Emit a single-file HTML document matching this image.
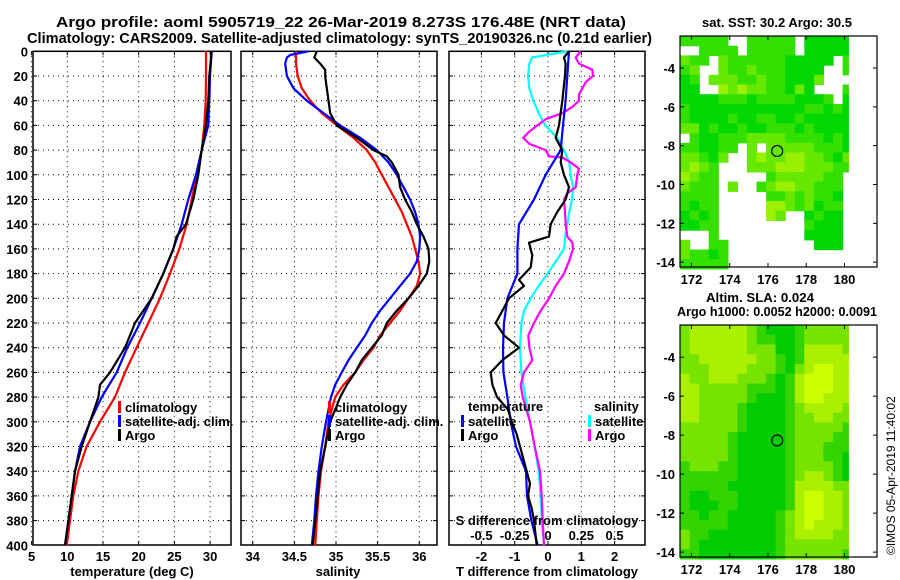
<!DOCTYPE html>
<html><head><meta charset="utf-8">
<style>
html,body{margin:0;padding:0;background:#fff;}
svg{display:block;font-family:"Liberation Sans",sans-serif;font-weight:bold;}
</style></head>
<body>
<svg id="chart" width="900" height="580" viewBox="0 0 900 580">
<text x="56" y="27" font-size="15" textLength="570" lengthAdjust="spacingAndGlyphs">Argo profile: aoml 5905719_22 26-Mar-2019 8.273S 176.48E (NRT data)</text>
<text x="27" y="43" font-size="15" textLength="625" lengthAdjust="spacingAndGlyphs">Climatology: CARS2009. Satellite-adjusted climatology: synTS_20190326.nc (0.21d earlier)</text>
<text x="702" y="27" font-size="13" textLength="150" lengthAdjust="spacingAndGlyphs">sat. SST: 30.2 Argo: 30.5</text>
<text x="706" y="302" font-size="13" textLength="108" lengthAdjust="spacingAndGlyphs">Altim. SLA: 0.024</text>
<text x="677" y="316" font-size="13" textLength="200" lengthAdjust="spacingAndGlyphs">Argo h1000: 0.0052 h2000: 0.0091</text>
<text transform="translate(895,555) rotate(-90)" font-size="12" font-weight="normal">©IMOS 05-Apr-2019 11:40:02</text>
<g id="g"></g>
</svg>
<script>
// ---- Panel 1: temperature ----
const tDepthClim = [0,20,40,60,80,100,120,140,160,180,200,220,240,260,280,300,320,340,360,380,400];
const tClim = [29.42,29.42,29.38,29.19,28.82,28.12,27.42,26.72,25.69,24.38,22.98,21.35,19.71,18.08,16.68,14.58,12.71,11.54,10.84,10.38,9.91];
const tSat = [30.22,29.99,29.89,29.75,28.82,28.03,26.95,26.02,24.85,23.45,21.82,20.18,18.41,16.92,14.82,13.18,11.78,11.08,10.61,10.15,9.68];
const tDepthArgo = [0,20,40,60,80,100,120,140,150,160,180,200,220,240,260,270,280,300,320,340,360,380,400];
const tArgo = [30.22,29.89,29.75,29.42,28.82,28.35,27.65,26.62,25.31,24.85,23.45,21.82,19.48,18.08,15.98,14.58,14.35,13.18,12.01,11.08,10.61,10.15,9.68];
// ---- Panel 2: salinity ----
const sDepth = [0,10,20,30,40,50,60,70,80,90,100,110,120,130,140,150,160,170,180,190,200,210,220,230,240,250,260,270,280,290,300,320,340,360,380,400];
const sClim = [34.52,34.52,34.54,34.59,34.69,34.83,35.01,35.21,35.37,35.47,35.55,35.63,35.71,35.79,35.85,35.91,35.95,35.99,36.01,35.97,35.87,35.77,35.65,35.53,35.45,35.33,35.23,35.09,34.99,34.95,34.91,34.87,34.82,34.79,34.77,34.75];
const sDepthSat = [0,3,5,10,20,30,40,50,60,70,80,90,100,110,120,130,140,150,160,170,180,190,200,210,220,230,240,250,260,270,280,300,320,340,360,380,400];
const sSat = [34.67,34.45,34.41,34.39,34.41,34.49,34.65,34.85,35.05,35.29,35.49,35.63,35.73,35.81,35.89,35.95,35.99,36.01,36.0,35.97,35.89,35.77,35.65,35.53,35.43,35.35,35.25,35.15,35.07,34.99,34.94,34.88,34.83,34.79,34.76,34.74,34.71];
const sDepthArgo = [0,5,10,15,20,30,40,50,60,70,80,85,90,100,110,120,130,140,150,160,170,180,190,200,210,220,230,240,250,260,270,280,290,300,320,340,360,380,400];
const sArgo = [34.77,34.74,34.81,34.87,34.87,34.89,34.91,34.93,35.01,35.25,35.45,35.61,35.67,35.75,35.77,35.83,35.91,35.97,36.05,36.11,36.12,36.09,35.99,35.87,35.73,35.61,35.55,35.43,35.31,35.23,35.13,35.05,34.99,34.93,34.87,34.81,34.78,34.75,34.72];
// ---- Panel 3: differences ----
const dDepthTSat = [0,20,40,60,80,100,120,140,160,180,200,220,240,260,280,300,320,340,360,380,400];
const dTSat = [0.63,0.58,0.53,0.45,0.38,-0.07,-0.42,-0.87,-0.92,-0.92,-1.22,-1.32,-1.35,-1.34,-1.22,-1.12,-0.96,-0.66,-0.63,-0.5,-0.31];
const dDepthTArgo = [0,5,10,20,40,60,70,80,90,100,110,120,130,140,150,155,165,175,185,190,200,210,220,230,240,250,260,270,280,290,300,310,320,340,350,360,370,380,400];
const dTArgo = [0.63,0.48,0.53,0.51,0.43,0.33,0.23,0.43,0.38,0.48,0.63,0.53,0.28,0.08,0.03,-0.57,-0.47,-0.52,-0.87,-0.72,-1.17,-1.37,-1.57,-1.32,-0.87,-1.37,-1.72,-1.67,-1.53,-1.2,-1.09,-0.94,-0.84,-0.64,-0.54,-0.6,-0.49,-0.42,-0.34];
const dDepthSSat = [0,5,10,20,30,40,50,60,70,80,90,100,110,120,130,140,150,160,170,180,190,200,210,220,240,260,280,300,320,340,360,380,400];
const dSSat = [0.145,-0.12,-0.14,-0.15,-0.14,-0.11,-0.07,-0.02,0.07,0.12,0.16,0.17,0.19,0.18,0.16,0.145,0.13,0.12,0.06,-0.004,-0.07,-0.13,-0.18,-0.2,-0.21,-0.2,-0.17,-0.135,-0.1,-0.07,-0.055,-0.047,-0.03];
const dDepthSArgo = [0,5,10,15,20,25,35,40,45,50,55,60,65,70,75,80,85,86,90,95,100,110,115,120,130,140,150,155,160,170,180,190,200,210,220,230,240,250,260,270,280,300,320,340,360,380,400];
const dSArgo = [0.245,0.208,0.233,0.333,0.338,0.283,0.233,0.233,0.183,0.108,-0.017,-0.08,-0.14,-0.186,-0.14,-0.017,0.008,0.108,0.17,0.233,0.22,0.208,0.145,0.12,0.128,0.133,0.145,0.183,0.188,0.158,0.12,0.058,0.008,-0.055,-0.105,-0.148,-0.14,-0.118,-0.18,-0.205,-0.19,-0.135,-0.1,-0.06,-0.047,-0.04,-0.03];
const depthTicks = [0,20,40,60,80,100,120,140,160,180,200,220,240,260,280,300,320,340,360,380,400];
const tTicks = [5,10,15,20,25,30];
const sTicks = [34,34.5,35,35.5,36];
const sTickLabels = ["34","34.5","35","35.5","36"];
const dTTicks = [-2,-1,0,1,2];
const dSTicks = [-0.5,-0.25,0,0.25,0.5];
const dSTickLabels = ["-0.5","-0.25","0","0.25","0.5"];
// ---- Maps ----
const lonTicks = [172,174,176,178,180];
const latTicks = [-4,-6,-8,-10,-12,-14];
const argoLon = 176.48, argoLat = -8.273;
const sstGrid = [
"ggggg..ggggg.GGGGG",
"..gggg.ggggg.GGGGG",
"lgg.lggggggGGGGG.g",
"gl..lgglgggGGGG..g",
"Gg.lllgglggGGGl...",
"GG..ylyllggGlG...g",
"GGGGgggGggggGGGg.G",
"gGGGGGGGGGGGGggGgG",
"gGGGGgGGggGGgGGGGG",
"llGgGGgGGgggGgGGGG",
".gGGgggllllggggGgG",
"ggGGgg.l.lllllgggG",
"llgGl..lyllyyllgGl",
"lylg...lllyyylllgg",
"ylgg.....glllllgg.",
"lggg.l..glyyllggg.",
"gggg.....gglglggG.",
"gGgg.....yylglGgg.",
"GgGg.....yl..GgGG.",
"GGgg.........gGGG.",
"...g.........GGGG.",
"l..gg.........GGG.",
"lggGg.............",
"ggggg............."];
const slaGrid = [
"lyyyyyylgGGGglllll","lyyyyyylggGGglllll","lyyyyyylllGGgyyyyl","llyyyyyyllgGgyyyyy",
"lllyyyylllgGlyYYyy","yllyyylllgGgyYYYyy","yylllllgggGgyYYYyy","yylllllgGGGgyYYyyy",
"yyllllgGGGGglyyyyl","yyllllgGGGGgllyyll","llllllgGGGGglllllg","lllllgGGGGGgllllgg",
"lllllgGGGGGglllggg","lllllgGGGGGglllggG","glllggGGGGGgllllgG","ggggggGGGGGglyylgG",
"gggggGGGGGGgyyyyll","gGGgggGGGGGgyYYyyl","gGGGggGGGGGgyYYyyl","ggGggGGGGGglyYYyyl",
"gggggGGGGGglyYyyyl","lggGGGGGGGglyyyyll","lgGGGGGGGGglllllll","ggGGGGGGGGgllllllg"];

const NS='http://www.w3.org/2000/svg';
const root=document.getElementById('g');
function mk(tag,attrs,parent){const e=document.createElementNS(NS,tag);for(const k in attrs)e.setAttribute(k,attrs[k]);(parent||root).appendChild(e);return e;}
function txt(x,y,s,anchor,size,parent){const e=mk('text',{x:x,y:y,'text-anchor':anchor||'middle','font-size':size||13},parent);e.textContent=s;return e;}

const yTop=51.3, yBot=545;
const yD=d=>yTop+d*1.235;
const xT=t=>67.3+(t-10)*7.14;
const xS=s=>252.7+(s-34)*83.3;
const xDT=v=>548+v*33.3;
const xDS=v=>548+v*133.2;

function panel(name,l,r,xticks,xfn){
  const g=mk('g',{});
  
  
  depthTicks.forEach(d=>{if(d>0&&d<400){const ln=mk('line',{x1:l,x2:r,y1:yD(d),y2:yD(d),stroke:'#000','stroke-width':1,'stroke-dasharray':'1,4'},g);
    
    
    mk('line',{x1:l,x2:l+4,y1:yD(d),y2:yD(d),stroke:'#000'},g);mk('line',{x1:r-4,x2:r,y1:yD(d),y2:yD(d),stroke:'#000'},g);}});
  xticks.forEach(v=>{const x=xfn(v);const ln=mk('line',{x1:x,x2:x,y1:yTop,y2:yBot,stroke:'#000','stroke-width':1,'stroke-dasharray':'1,4'},g);
    
    
    mk('line',{x1:x,x2:x,y1:yBot-4,y2:yBot,stroke:'#000'},g);mk('line',{x1:x,x2:x,y1:yTop,y2:yTop+4,stroke:'#000'},g);});
  const fr=mk('rect',{x:l,y:yTop,width:r-l,height:yBot-yTop,fill:'none',stroke:'#000','stroke-width':1.5},g);
  
  
  return g;
}
function line(g,depths,vals,xfn,color,name){
  const p=depths.map((d,i)=>xfn(vals[i]).toFixed(1)+','+yD(d).toFixed(1)).join(' ');
  const e=mk('polyline',{points:p,fill:'none',stroke:color,'stroke-width':2.2,'stroke-linejoin':'round'},g);
  
  
}
function legend(g,x,y,color,label,name){
  const e=mk('rect',{x:x,y:y-11,width:3,height:12,fill:color},g);
  
  
  txt(x+7,y,label,'start',13,g);
}

// Panel 1
const p1=panel('temperature-panel',33,231,tTicks,xT);
depthTicks.forEach(d=>{const t=txt(28,yD(d)+5,String(d),'end',13);
  
  });
tTicks.forEach(v=>{const t=txt(xT(v),561,String(v));
  
  });
txt(132,576,'temperature (deg C)');
line(p1,tDepthClim,tClim,xT,'#ff0000','temperature-climatology-line');
line(p1,tDepthClim,tSat,xT,'#0000ff','temperature-satellite-line');
line(p1,tDepthArgo,tArgo,xT,'#000000','temperature-argo-line');
legend(p1,118,412,'#ff0000','climatology','legend-climatology');
legend(p1,118,426,'#0000ff','satellite-adj. clim.','legend-satellite');
legend(p1,118,440,'#000000','Argo','legend-argo');

// Panel 2
const p2=panel('salinity-panel',241,437,sTicks,xS);
sTicks.forEach((v,i)=>{const t=txt(xS(v),561,sTickLabels[i]);
  
  });
txt(338,576,'salinity');
line(p2,sDepth,sClim,xS,'#ff0000','salinity-climatology-line');
line(p2,sDepthSat,sSat,xS,'#0000ff','salinity-satellite-line');
line(p2,sDepthArgo,sArgo,xS,'#000000','salinity-argo-line');
legend(p2,328,412,'#ff0000','climatology','legend-climatology');
legend(p2,328,426,'#0000ff','satellite-adj. clim.','legend-satellite');
legend(p2,328,440,'#000000','Argo','legend-argo');

// Panel 3
const p3=panel('difference-panel',449,645,dTTicks,xDT);
dTTicks.forEach(v=>{const t=txt(xDT(v),561,String(v));
  
  });
dSTicks.forEach((v,i)=>{const t=txt(xDS(v),540,dSTickLabels[i]);
  
  });
txt(547,525,'S difference from climatology');
txt(547,576,'T difference from climatology');
line(p3,dDepthSSat,dSSat,xDS,'#00ffff','s-diff-satellite-line');
line(p3,dDepthSArgo,dSArgo,xDS,'#ff00ff','s-diff-argo-line');
line(p3,dDepthTSat,dTSat,xDT,'#0000ff','t-diff-satellite-line');
line(p3,dDepthTArgo,dTArgo,xDT,'#000000','t-diff-argo-line');
txt(468,411,'temperature','start',13,p3);
legend(p3,461,426,'#0000ff','satellite','legend-t-satellite');
legend(p3,461,440,'#000000','Argo','legend-t-argo');
txt(594,411,'salinity','start',13,p3);
legend(p3,588,426,'#00ffff','satellite','legend-s-satellite');
legend(p3,588,440,'#ff00ff','Argo','legend-s-argo');

// Maps
function map(name,y0,y1,grid,colors){
  const l=680,r=877,lon0=171.4,lon1=181.7,lat0=-2.35,lat1=-14.25;
  const X=lon=>l+(lon-lon0)/(lon1-lon0)*(r-l);
  const Y=lat=>y0+(lat-lat0)/(lat1-lat0)*(y1-y0);
  const g=mk('g',{});
  
  
  const lonEnd=180.2;
  grid.forEach((row,ri)=>{for(let ci=0;ci<row.length;ci++){const c=row[ci];if(c==='.')continue;
    const lo=lon0+ci*0.5, la=lat0-ri*0.5;
    const xa=X(lo), xb=X(Math.min(lo+0.5,lonEnd));
    if(xb<=xa)continue;
    const cell=mk('rect',{x:xa.toFixed(1),y:Y(la).toFixed(1),width:(xb-xa+0.6).toFixed(1),height:(Y(la-0.5)-Y(la)+0.6).toFixed(1),fill:colors[c]},g);
    
    }});
  const fr=mk('rect',{x:l,y:y0,width:r-l,height:y1-y0,fill:'none',stroke:'#000','stroke-width':1.2},g);
  
  
  lonTicks.forEach(v=>{mk('line',{x1:X(v),x2:X(v),y1:y1-4,y2:y1,stroke:'#000'},g);mk('line',{x1:X(v),x2:X(v),y1:y0,y2:y0+4,stroke:'#000'},g);
    const t=txt(X(v),y1+17,String(v),'middle',13,g);
    
    });
  latTicks.forEach(v=>{mk('line',{x1:l,x2:l+4,y1:Y(v),y2:Y(v),stroke:'#000'},g);mk('line',{x1:r-4,x2:r,y1:Y(v),y2:Y(v),stroke:'#000'},g);
    const t=txt(l-5,Y(v)+5,String(v),'end',13,g);
    
    });
  const c=mk('circle',{cx:X(argoLon),cy:Y(argoLat),r:5.5,fill:'none',stroke:'#000','stroke-width':1.2},g);
  
  
}
map('sst-map',36,267,sstGrid,{G:'#00d800',g:'#33e000',l:'#66e800',y:'#99f000'});
map('sla-map',325,557,slaGrid,{G:'#00cc00',g:'#33d400',l:'#77e400',y:'#aaf000',Y:'#ccff00'});
</script>
</body></html>
